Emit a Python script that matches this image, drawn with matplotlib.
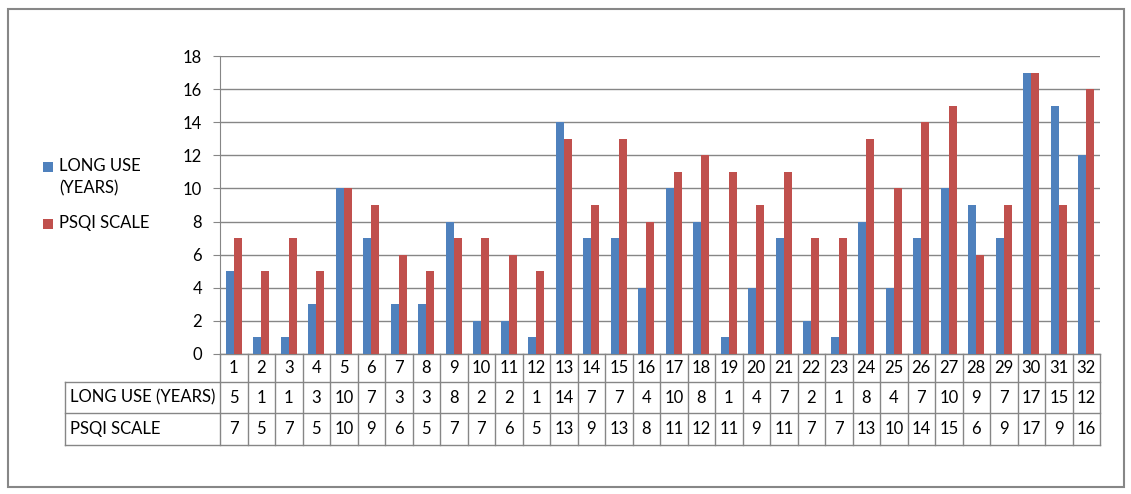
import numpy as np
import matplotlib.pyplot as plt
from matplotlib.patches import Rectangle

plt.rcParams['font.family'] = ['Lato', 'DejaVu Sans']

respondents = [str(i) for i in range(1, 33)]
long_use = [5, 1, 1, 3, 10, 7, 3, 3, 8, 2, 2, 1, 14, 7, 7, 4,
            10, 8, 1, 4, 7, 2, 1, 8, 4, 7, 10, 9, 7, 17, 15, 12]
psqi = [7, 5, 7, 5, 10, 9, 6, 5, 7, 7, 6, 5, 13, 9, 13, 8,
        11, 12, 11, 9, 11, 7, 7, 13, 10, 14, 15, 6, 9, 17, 9, 16]
series_names = ['LONG USE (YEARS)', 'PSQI SCALE']
legend_labels = ['LONG USE\n(YEARS)', 'PSQI SCALE']
colors = ['#4F81BD', '#C0504D']
grid_col = '#868686'
fs = 12

fig = plt.figure(figsize=(11.31, 4.94), dpi=100)
ax = fig.add_axes([220 / 1131, 1 - 354 / 494, 880 / 1131, 298 / 494])

x = np.arange(len(respondents))
w = 0.29
ax.bar(x - w / 2, long_use, w, color=colors[0], zorder=3)
ax.bar(x + w / 2, psqi, w, color=colors[1], zorder=3)

ax.set_xlim(-0.5, len(respondents) - 0.5)
ax.set_ylim(0, 18)
ax.set_yticks(range(0, 19, 2))
ax.yaxis.grid(True, color=grid_col, linewidth=1)
ax.set_axisbelow(True)
ax.set_xticks([])
for s in ['top', 'right', 'bottom']:
    ax.spines[s].set_visible(False)
ax.spines['left'].set_color(grid_col)
ax.tick_params(axis='y', length=5, color=grid_col, pad=8, labelsize=fs)

# data table under the plot
tr = ax.get_xaxis_transform()
rows = [0, -0.094, -0.198, -0.305]
left = -0.176
kw = dict(color=grid_col, lw=1, clip_on=False, transform=ax.transAxes)
ax.plot([0, 1], [0, 0], **kw)
for r in rows[1:]:
    ax.plot([left, 1], [r, r], **kw)
ax.plot([left, left], [rows[1], rows[3]], **kw)
for i in range(len(respondents) + 1):
    ax.plot([i - 0.5, i - 0.5], [rows[0], rows[3]], color=grid_col, lw=1,
            clip_on=False, transform=tr)

for i, lab in enumerate(respondents):
    ax.text(i, (rows[0] + rows[1]) / 2, lab, transform=tr, ha='center', va='center', fontsize=fs)
    ax.text(i, (rows[1] + rows[2]) / 2, str(long_use[i]), transform=tr, ha='center', va='center', fontsize=fs)
    ax.text(i, (rows[2] + rows[3]) / 2, str(psqi[i]), transform=tr, ha='center', va='center', fontsize=fs)
ax.text(left + 0.006, (rows[1] + rows[2]) / 2, series_names[0], transform=ax.transAxes,
        ha='left', va='center', fontsize=fs)
ax.text(left + 0.006, (rows[2] + rows[3]) / 2, series_names[1], transform=ax.transAxes,
        ha='left', va='center', fontsize=fs)

# legend on the left
leg_y = [1 - 167 / 494, 1 - 224 / 494]
for lab, c, yy in zip(legend_labels, colors, leg_y):
    fig.patches.append(Rectangle((43 / 1131, yy - 5 / 494), 10 / 1131, 10 / 494,
                                 facecolor=c, transform=fig.transFigure))
    fig.text(59 / 1131, yy + 9 / 494, lab, ha='left', va='top', fontsize=fs, linespacing=1.5)

# outer frame
fig.patches.append(Rectangle((8 / 1131, 1 - 487 / 494), 1116 / 1131, 478 / 494,
                             fill=False, edgecolor='#878787', lw=1.5, transform=fig.transFigure))

fig.savefig('out.png', dpi=100)
